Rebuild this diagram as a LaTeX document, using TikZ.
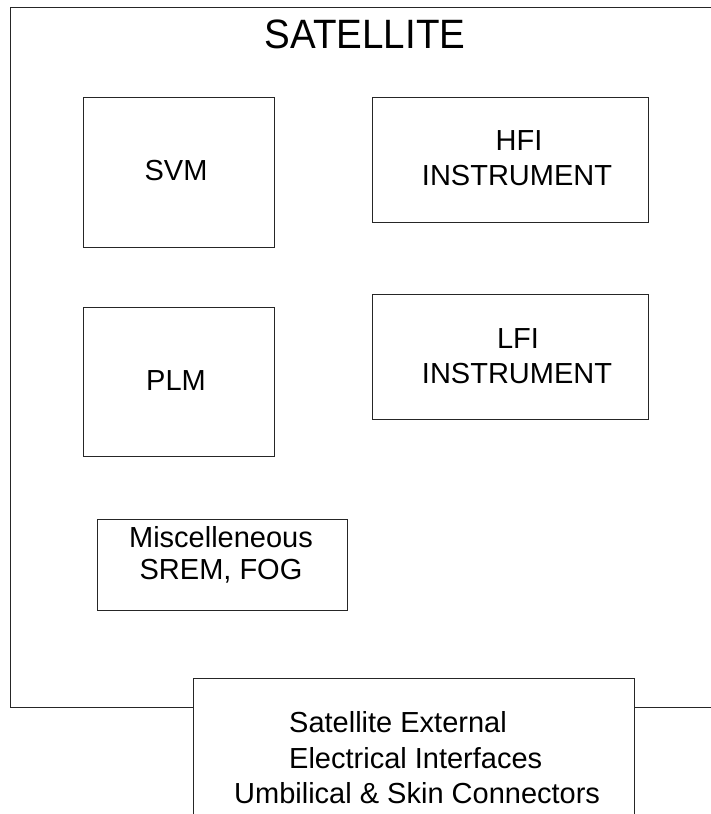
\documentclass[tikz,border=0pt]{standalone}
\usepackage{fontspec}
\setmainfont{Liberation Sans}
\begin{document}
\begin{tikzpicture}[x=1pt,y=-1pt,
  frameline/.style={draw=black!85, line width=0.9pt},
  boxnode/.style={draw=black!85, line width=0.9pt, fill=white, inner sep=0pt, anchor=north west},
  lbl/.style={anchor=base, inner sep=0pt, font=\fontsize{29}{35}\selectfont},
  lblw/.style={anchor=base west, inner sep=0pt, font=\fontsize{29}{35}\selectfont}]
\useasboundingbox (0,0) rectangle (711,814);
\begin{scope}
\clip (0,0) rectangle (711,814);
% outer satellite frame (extends past the right edge)
\coordinate (fr1) at (760,707);
\coordinate (fr2) at (10,707);
\coordinate (fr3) at (10,7);
\coordinate (fr4) at (760,7);
\draw[frameline] (fr1) -- (fr2) -- (fr3) -- (fr4);
% title
\node[anchor=base, inner sep=0pt] (title) at (365,48)
  {\scalebox{0.94}[1]{\fontsize{41}{41}\selectfont SATELLITE}};
% boxes
\node[boxnode, minimum width=191pt, minimum height=150pt] (svm) at (83,97) {};
\node[boxnode, minimum width=276pt, minimum height=125pt] (hfi) at (372,97) {};
\node[boxnode, minimum width=191pt, minimum height=149pt] (plm) at (83,307) {};
\node[boxnode, minimum width=276pt, minimum height=125pt] (lfi) at (372,294) {};
\node[boxnode, minimum width=250pt, minimum height=91pt] (misc) at (97,519) {};
\node[boxnode, minimum width=441pt, minimum height=200pt] (ext) at (193,678) {};
% labels
\node[lbl] (svmt) at (176,180) {SVM};
\node[lbl] (hfit1) at (519,150) {HFI};
\node[lbl] (hfit2) at (517,185) {INSTRUMENT};
\node[lbl] (lfit1) at (518,348) {LFI};
\node[lbl] (lfit2) at (517,383) {INSTRUMENT};
\node[lbl] (plmt) at (176,390) {PLM};
\node[lbl] (misct1) at (221,547) {Miscelleneous};
\node[lbl] (misct2) at (221,579) {SREM, FOG};
\node[lblw] (extt1) at (289,732) {Satellite External};
\node[lblw] (extt2) at (289,768) {Electrical Interfaces};
\node[lblw] (extt3) at (234,803) {Umbilical \& Skin Connectors};
\end{scope}
\end{tikzpicture}
\end{document}
